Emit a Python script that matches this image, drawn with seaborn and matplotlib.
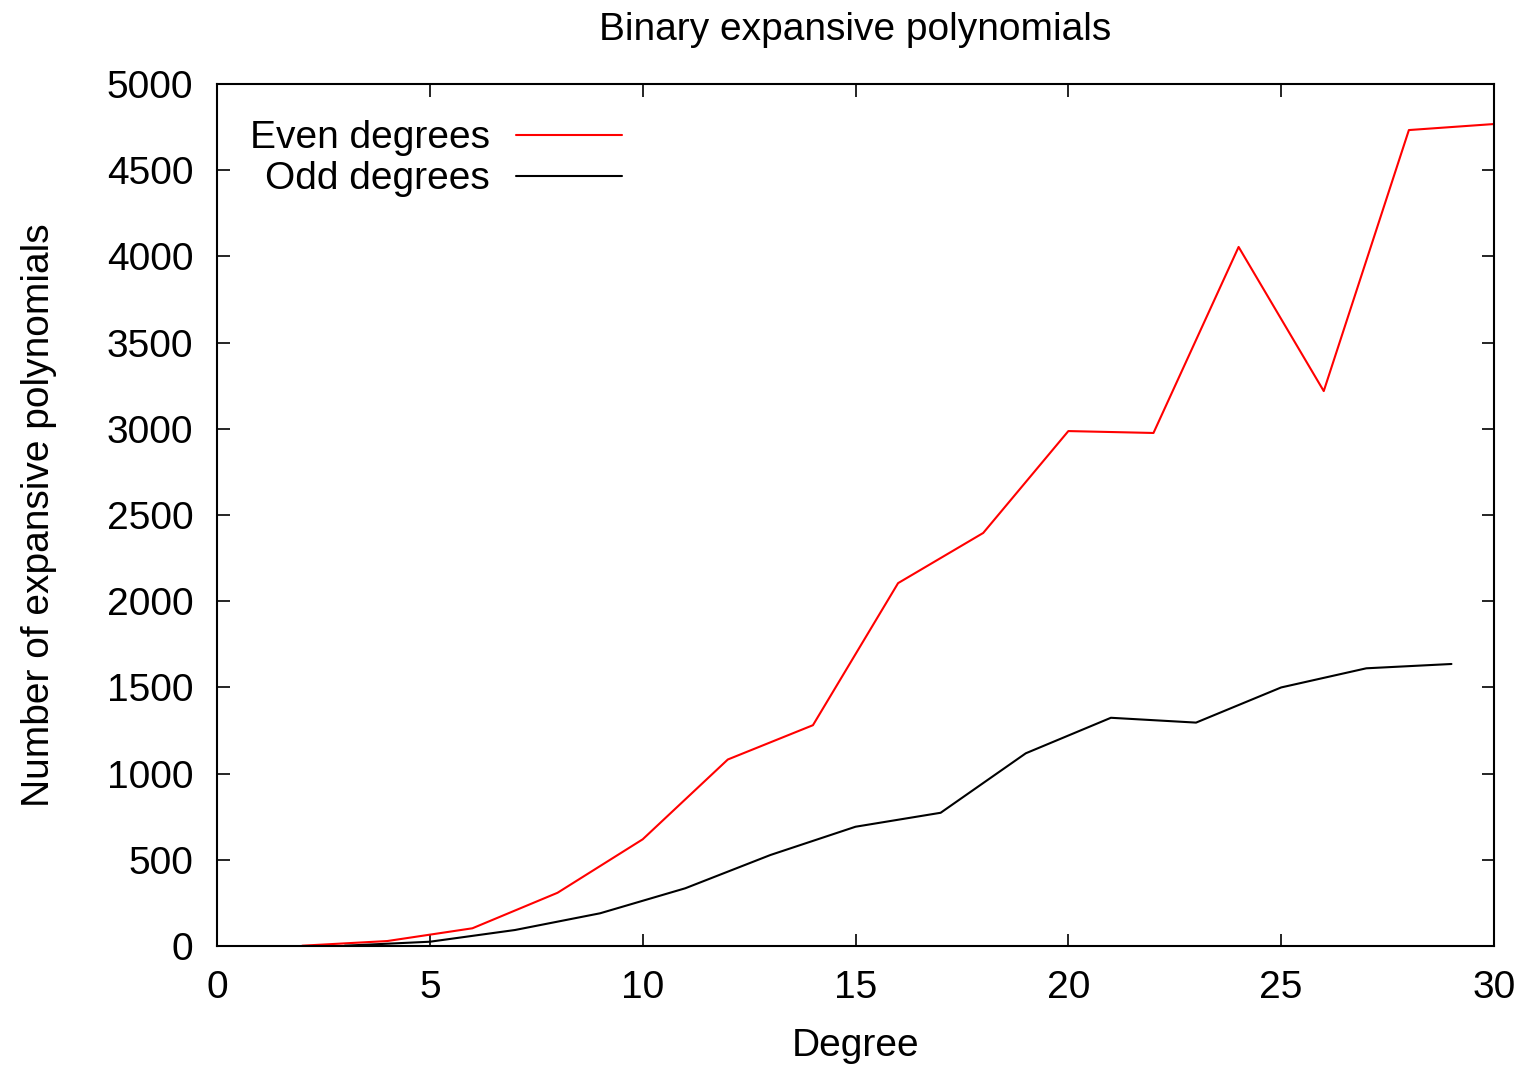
import matplotlib
matplotlib.use("Agg")
import matplotlib.pyplot as plt
import seaborn as sns
import pandas as pd

even_degrees = [2, 4, 6, 8, 10, 12, 14, 16, 18, 20, 22, 24, 26, 28, 30]
even_counts = [2, 29, 103, 309, 619, 1082, 1281, 2105, 2396, 2987, 2976, 4055, 3219, 4733, 4768]

odd_degrees = [3, 5, 7, 9, 11, 13, 15, 17, 19, 21, 23, 25, 27, 29]
odd_counts = [2, 25, 93, 190, 335, 528, 692, 773, 1118, 1324, 1296, 1500, 1611, 1636]

x_ticks = [0, 5, 10, 15, 20, 25, 30]
y_ticks = [0, 500, 1000, 1500, 2000, 2500, 3000, 3500, 4000, 4500, 5000]

sns.set_style("ticks")
plt.rcParams["font.family"] = ["Liberation Sans", "DejaVu Sans"]
for key in ("text.color", "axes.labelcolor", "xtick.color", "ytick.color",
            "axes.edgecolor"):
    plt.rcParams[key] = "black"

FS = 28

fig = plt.figure(figsize=(15.38, 10.65), dpi=100)
ax = fig.add_axes([0.1411, 0.1117, 0.8303, 0.8094])

even_df = pd.DataFrame({"Degree": even_degrees, "Count": even_counts})
odd_df = pd.DataFrame({"Degree": odd_degrees, "Count": odd_counts})

sns.lineplot(data=even_df, x="Degree", y="Count", ax=ax, color="#ff0000",
             linewidth=1.5, label="Even degrees")
sns.lineplot(data=odd_df, x="Degree", y="Count", ax=ax, color="#000000",
             linewidth=1.5, label="Odd degrees")

ax.set_xlim(0, 30)
ax.set_ylim(0, 5000)
ax.set_xticks(x_ticks)
ax.set_yticks(y_ticks)
ax.tick_params(direction="in", length=9, width=1.2, labelsize=FS,
               top=True, right=True, pad=17)
for s in ax.spines.values():
    s.set_linewidth(1.5)
    s.set_color("black")

ax.set_xlabel("Degree", fontsize=FS, labelpad=16)
ax.set_ylabel("Number of expansive polynomials", fontsize=FS, labelpad=36)
ax.set_title("Binary expansive polynomials", fontsize=FS, pad=32)

leg = ax.legend(loc="upper right", bbox_to_anchor=(0.317, 0.958), frameon=False,
                markerfirst=False, fontsize=FS, handlelength=2.72,
                handletextpad=0.67, labelspacing=0.13, borderaxespad=0.0,
                borderpad=0.0)
for t in leg.get_texts():
    t.set_ha("right")
leg._legend_box.align = "right"

fig.savefig("out.png", dpi=100, facecolor="white")
